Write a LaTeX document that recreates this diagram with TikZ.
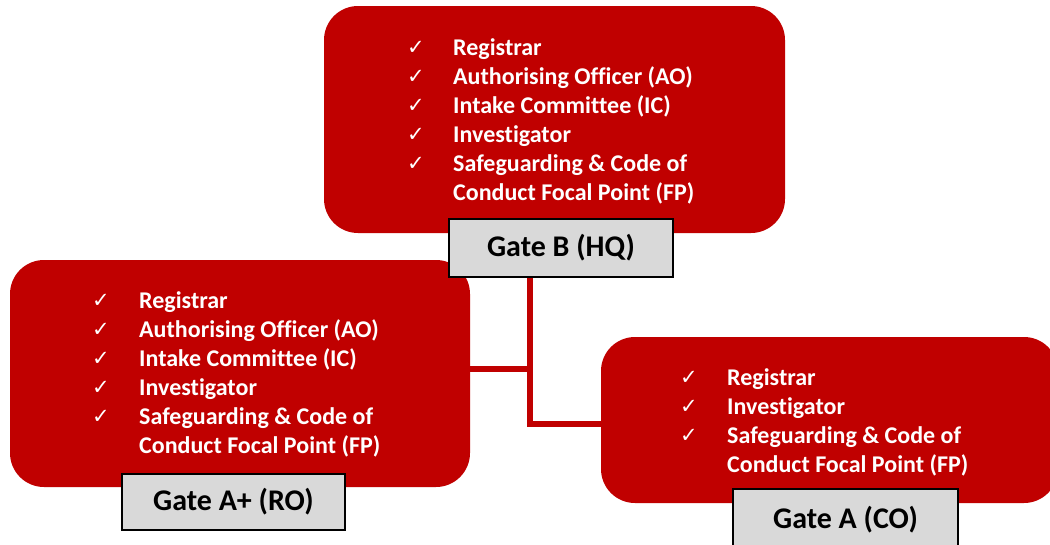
\documentclass[tikz,border=0pt]{standalone}
\usepackage{fontspec}
\setmainfont[Ligatures=NoCommon]{Carlito}
\newfontfamily\symfont{DejaVu Sans}
\definecolor{boxred}{HTML}{C00000}
\definecolor{gategray}{HTML}{D9D9D9}
\newcommand{\chk}{{\symfont\fontsize{21}{21}\selectfont\raisebox{1pt}{✓}}}
\begin{document}
\begin{tikzpicture}[x=1pt,y=-1pt,
  redbox/.style={fill=boxred, rounded corners=34pt, inner sep=0pt},
  listtext/.style={anchor=base west, inner sep=0pt, text=white,
    font=\fontsize{24}{29}\selectfont\bfseries},
  gatebox/.style={draw=black, line width=2.5pt, fill=gategray, inner sep=0pt,
    font=\fontsize{30}{34}\selectfont\bfseries},
  link/.style={draw=boxred, line width=6pt, line join=miter}]
\clip (0,0) rectangle (1050,544);
\fill[white] (0,0) rectangle (1050,544);
% red boxes
\node[redbox, minimum width=461pt, minimum height=227pt] (rB) at (554.5,119.5) {};
\node[redbox, minimum width=460pt, minimum height=227pt] (rAp) at (240,373.5) {};
\node[redbox, minimum width=457pt, minimum height=166pt] (rA) at (829.5,420) {};
% connectors
\coordinate (j1) at (530,369);
\coordinate (j2) at (530,424);
% gate boxes
\node[gatebox, minimum width=224pt, minimum height=58pt] (gB) at (561,248) {Gate B (HQ)};
\node[gatebox, minimum width=223pt, minimum height=56pt] (gAp) at (233.5,502) {Gate A+ (RO)};
\node[gatebox, minimum width=225pt, minimum height=62pt] (gA) at (845.5,520) {Gate A (CO)};
\draw[link] (gB.south -| j1) -- (j2) -- (rA.west |- j2);
\draw[link] (rAp.east |- j1) -- (j1);
% lists
\node[listtext] (lB) at (407,55) {\begin{tabular}[t]{@{}p{46pt}@{}l@{}}
\chk & Registrar\\
\chk & Authorising Officer (AO)\\
\chk & Intake Committee (IC)\\
\chk & Investigator\\
\chk & Safeguarding \& Code of\\
     & Conduct Focal Point (FP)
\end{tabular}};
\node[listtext] (lAp) at (92,308) {\begin{tabular}[t]{@{}p{47pt}@{}l@{}}
\chk & Registrar\\
\chk & Authorising Officer (AO)\\
\chk & Intake Committee (IC)\\
\chk & Investigator\\
\chk & Safeguarding \& Code of\\
     & Conduct Focal Point (FP)
\end{tabular}};
\node[listtext] (lA) at (680,385) {\begin{tabular}[t]{@{}p{47pt}@{}l@{}}
\chk & Registrar\\
\chk & Investigator\\
\chk & Safeguarding \& Code of\\
     & Conduct Focal Point (FP)
\end{tabular}};
\end{tikzpicture}
\end{document}
